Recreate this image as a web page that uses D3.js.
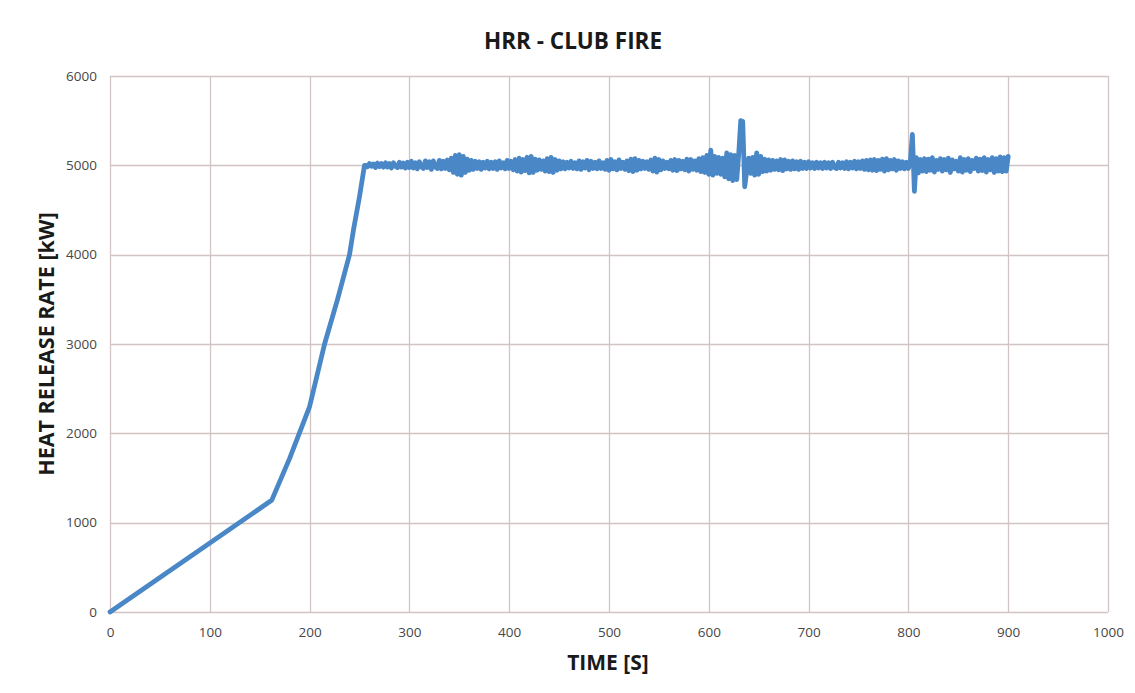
<!DOCTYPE html>
<html>
<head>
<meta charset="utf-8">
<script src="https://cdn.jsdelivr.net/npm/d3@7"></script>
<style>
  html, body { margin: 0; padding: 0; background: #ffffff; }
  svg { display: block; }
  text { font-family: "Open Sans", "Liberation Sans", sans-serif; }
</style>
</head>
<body>
<svg id="chart" width="1135" height="693"></svg>
<script>
// Growth phase: time [s] and heat release rate [kW]
const growthTime = [0, 162, 180, 200, 215, 228, 240, 244, 250, 255];
const growthHRR  = [0, 1250, 1720, 2300, 3000, 3500, 4000, 4280, 4650, 5000];

// Steady phase: measured HRR sampled every 2 s from 256 s to 900 s
const steadyStart = 256;
const steadyStep = 2;
const steadyHRR = [
  5000, 4985, 5020, 4990, 5015, 4975, 5025, 4985, 5020, 4980, 5030, 4980, 5020, 4970, 5030, 4990, 4975, 5035, 4980, 5025,
  4970, 5035, 4975, 5045, 4970, 5030, 4960, 5040, 4985, 4965, 5050, 4975, 5040, 4955, 5050, 4980, 4965, 5055, 4960, 5045,
  4965, 5060, 4950, 5080, 4920, 5110, 4900, 5120, 4890, 5100, 4920, 5070, 4945, 5055, 4955, 5045, 4965, 5040, 4955, 5035,
  4970, 5045, 4960, 5035, 4965, 5040, 4955, 5050, 4970, 5030, 4960, 5055, 4965, 5045, 4950, 5065, 4935, 5080, 4925, 5065,
  4940, 5090, 4915, 5100, 4920, 5070, 4945, 5060, 4955, 5050, 4935, 5075, 4930, 5090, 4920, 5065, 4945, 5050, 4960, 5040,
  4960, 5035, 4970, 5045, 4965, 5030, 4960, 5050, 4955, 5040, 4970, 5055, 4950, 5045, 4965, 5035, 4960, 5050, 4965, 5030,
  4955, 5055, 4945, 5065, 4960, 5040, 4950, 5060, 4965, 5035, 4955, 5050, 4940, 5070, 4930, 5075, 4945, 5055, 4960, 5045,
  4965, 5040, 4955, 5060, 4935, 5080, 4925, 5065, 4950, 5050, 4965, 5035, 4960, 5055, 4945, 5065, 4940, 5055, 4960, 5045,
  4950, 5070, 4935, 5065, 4955, 5050, 4945, 5075, 4930, 5085, 4920, 5110, 4900, 5170, 4890, 5100, 4910, 5090, 4900, 5080,
  4870, 5140, 4850, 5120, 4830, 5110, 4840, 5130, 5500, 5490, 4760, 4940, 5080, 4910, 5090, 4890, 5140, 4900, 5100, 4930,
  5070, 4935, 5060, 4945, 5055, 4955, 5050, 4950, 5065, 4940, 5060, 4960, 5045, 4955, 5050, 4960, 5040, 4955, 5045, 4965,
  5035, 4965, 5040, 4970, 5030, 4965, 5035, 4970, 5030, 4965, 5035, 4970, 5030, 4965, 5035, 4975, 4965, 5035, 4970, 5030,
  4965, 5040, 4960, 5035, 4970, 5045, 4960, 5040, 4965, 5050, 4955, 5055, 4950, 5060, 4945, 5065, 4940, 5055, 4955, 5070,
  4935, 5075, 4950, 5055, 4960, 5065, 4945, 5050, 4965, 5040, 4960, 5035, 4965, 5045, 5345, 4710, 5085, 4915, 5065, 4935,
  5075, 4930, 5070, 4945, 5085, 4925, 5055, 4955, 5075, 4935, 5065, 4950, 5080, 4920, 5060, 4960, 5045, 4935, 5085, 4925,
  5065, 4945, 5075, 4930, 5055, 4965, 5080, 4935, 5070, 4940, 5085, 4925, 5065, 4950, 5085, 4920, 5075, 4935, 5095, 4930,
  5085, 4935, 5100
];

const xTicks = [0, 100, 200, 300, 400, 500, 600, 700, 800, 900, 1000];
const yTicks = [0, 1000, 2000, 3000, 4000, 5000, 6000];

const chartTitle = "HRR - CLUB FIRE";
const xTitle = "TIME [S]";
const yTitle = "HEAT RELEASE RATE [kW]";

// Build the combined series
const series = growthTime.map((t, i) => ({ t, v: growthHRR[i] }))
  .concat(steadyHRR.map((v, i) => ({ t: steadyStart + i * steadyStep, v })));

const svg = d3.select("#chart");
const plot = { left: 110, right: 1108, top: 76, bottom: 612 };

const x = d3.scaleLinear().domain([0, 1000]).range([plot.left, plot.right]);
const y = d3.scaleLinear().domain([0, 6000]).range([plot.bottom, plot.top]);

const gridColor = "#d2c4c4";

// Gridlines
svg.append("g")
  .selectAll("line")
  .data(xTicks)
  .join("line")
  .attr("x1", d => Math.round(x(d)) + 0.5)
  .attr("x2", d => Math.round(x(d)) + 0.5)
  .attr("y1", plot.top)
  .attr("y2", plot.bottom)
  .attr("stroke", gridColor)
  .attr("stroke-width", 1.3);

svg.append("g")
  .selectAll("line")
  .data(yTicks)
  .join("line")
  .attr("x1", plot.left)
  .attr("x2", plot.right)
  .attr("y1", d => Math.round(y(d)) + 0.5)
  .attr("y2", d => Math.round(y(d)) + 0.5)
  .attr("stroke", gridColor)
  .attr("stroke-width", 1.3);

// Tick labels via d3 axes
const xAxis = svg.append("g")
  .attr("transform", `translate(0,${plot.bottom})`)
  .call(d3.axisBottom(x).tickValues(xTicks).tickSize(0).tickPadding(15).tickFormat(d3.format("d")));
const yAxis = svg.append("g")
  .attr("transform", `translate(${plot.left},0)`)
  .call(d3.axisLeft(y).tickValues(yTicks).tickSize(0).tickPadding(13).tickFormat(d3.format("d")));

[xAxis, yAxis].forEach(g => {
  g.select(".domain").remove();
  g.selectAll("text")
    .attr("font-family", "'Open Sans', 'Liberation Sans', sans-serif")
    .attr("font-size", 13.5)
    .attr("fill", "#474747");
});

// Data line
const line = d3.line().x(d => x(d.t)).y(d => y(d.v));
svg.append("path")
  .datum(series)
  .attr("d", line)
  .attr("fill", "none")
  .attr("stroke", "#4a87c6")
  .attr("stroke-width", 4.8)
  .attr("stroke-linejoin", "round")
  .attr("stroke-linecap", "round");

// Titles
svg.append("text")
  .attr("x", 573).attr("y", 49)
  .attr("text-anchor", "middle")
  .attr("font-size", 22.5).attr("font-weight", "bold")
  .attr("fill", "#1a1a1a")
  .text(chartTitle);

svg.append("text")
  .attr("x", 608).attr("y", 670)
  .attr("text-anchor", "middle")
  .attr("font-size", 21).attr("font-weight", "bold")
  .attr("fill", "#1a1a1a")
  .text(xTitle);

svg.append("text")
  .attr("transform", "translate(54,344) rotate(-90)")
  .attr("text-anchor", "middle")
  .attr("font-size", 21.5).attr("font-weight", "bold")
  .attr("fill", "#1a1a1a")
  .text(yTitle);
</script>
</body>
</html>
